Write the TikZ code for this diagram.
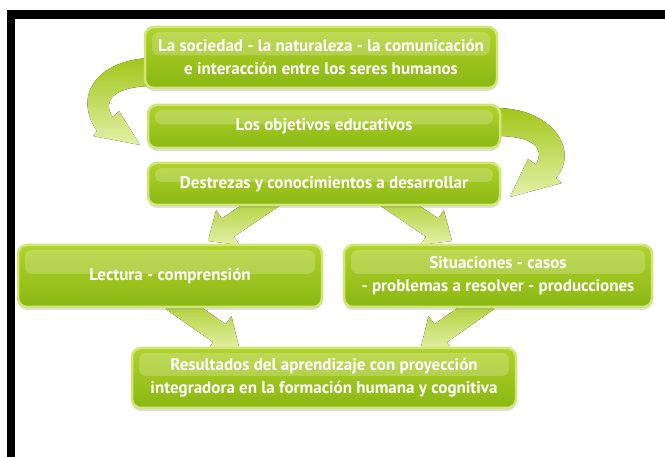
\documentclass[tikz,border=0pt]{standalone}
\usepackage{fontspec}
\setmainfont{PT Sans}
\usetikzlibrary{calc,shadows}
\definecolor{gtop}{HTML}{B1D22C}
\definecolor{gbot}{HTML}{8AB712}
\definecolor{gborder}{HTML}{D0E676}
\definecolor{atail}{HTML}{A2C61A}
\definecolor{atip}{HTML}{E4F1A8}
\tikzset{
  gbox/.style={draw=gborder, line width=2.5pt, rounded corners=9pt,
    top color=gtop, bottom color=gbot, text=white,
    font=\bfseries\fontsize{17}{23}\selectfont, align=center, inner sep=0pt,
    drop shadow={shadow xshift=0pt, shadow yshift=-3pt, opacity=0.25},
    path picture={\fill[white, opacity=0.2, rounded corners=7pt]
      ([xshift=7pt,yshift=-5pt]path picture bounding box.north west) rectangle
      ([xshift=-7pt,yshift=2pt]path picture bounding box.east);}},
  garrow/.style={top color=atail, middle color=atail!85!atip, bottom color=atip},
  frame/.style={fill=black}
}
\newcommand\blkarrow[5]{%
  \coordinate (ba) at (#1); \coordinate (bt) at (#2);
  \coordinate (bb) at ($(bt)!#5!(ba)$);
  \fill[garrow] ($(ba)!#3!90:(bt)$) -- ($(bb)!#3!90:(bt)$) -- ($(bb)!#4!90:(bt)$)
    -- (bt) -- ($(bb)!#4!-90:(bt)$) -- ($(bb)!#3!-90:(bt)$) -- ($(ba)!#3!-90:(bt)$) -- cycle;}
\begin{document}
\begin{tikzpicture}[x=1pt,y=-1pt]
\useasboundingbox[fill=white] (0,0) rectangle (665,457);
\fill[frame] (7,10) rectangle (665,19);
\fill[frame] (7,10) rectangle (15,457);

% node positions (drawn later); coordinates for arrows
\path (321,57.5) coordinate (p1) (324,126.5) coordinate (p2) (324,184) coordinate (p3)
      (170,276) coordinate (p4) (498,276) coordinate (p5) (324,378) coordinate (p6);

% curved arrow n1 -> n2 (left)
\coordinate (l1o) at ($(p1)+(-171,0.5)$);
\coordinate (l1i) at ($(p1)+(-171,28.5)$);
\coordinate (l1t) at ($(p2)+(-184,18.5)$);
\fill[garrow] (l1o) .. controls (98,60) and (72,95) .. (97,131) -- (93,136) -- (l1t)
  -- (119,111) -- (113,117.5) .. controls (101,100) and (115,87) .. (l1i) -- cycle;

% curved arrow n2 -> n3 (right)
\coordinate (r1o) at ($(p2)+(172,-18.5)$);
\coordinate (r1i) at ($(p2)+(172,9.5)$);
\coordinate (r1t) at ($(p3)+(186,13)$);
\fill[garrow] (r1o) .. controls (552,108) and (580,150) .. (556,178) -- (562,183) -- (r1t)
  -- (528,159) -- (536,164.5) .. controls (546,146) and (530,136) .. (r1i) -- cycle;

% straight arrows
\coordinate (a34s) at ($(p3)+(-48,11)$);
\coordinate (a34t) at ($(p4)+(38,-35)$);
\coordinate (a35s) at ($(p3)+(60,11)$);
\coordinate (a35t) at ($(p5)+(-46,-35)$);
\coordinate (a46s) at ($(p4)+(2,24)$);
\coordinate (a46t) at ($(p6)+(-85,-31)$);
\coordinate (a56s) at ($(p5)+(-10,24)$);
\coordinate (a56t) at ($(p6)+(97,-31)$);
\blkarrow{a34s}{a34t}{11pt}{21pt}{24pt}
\blkarrow{a35s}{a35t}{11pt}{21pt}{24pt}
\blkarrow{a46s}{a46t}{11pt}{21pt}{24pt}
\blkarrow{a56s}{a56t}{11pt}{21pt}{24pt}

% boxes
\node[gbox, minimum width=352pt, minimum height=61pt] (n1) at (p1)
  {La sociedad - la naturaleza - la comunicación\\e interacción entre los seres humanos};
\node[gbox, minimum width=352pt, minimum height=43pt] (n2) at (p2) {Los objetivos educativos};
\node[gbox, minimum width=352pt, minimum height=42pt] (n3) at (p3) {Destrezas y conocimientos a desarrollar};
\node[gbox, minimum width=304pt, minimum height=62pt] (n4) at (p4) {Lectura - comprensión};
\node[gbox, minimum width=308pt, minimum height=62pt] (n5) at (p5)
  {Situaciones - casos\\- problemas a resolver - producciones};
\node[gbox, minimum width=384pt, minimum height=60pt] (n6) at (p6)
  {Resultados del aprendizaje con proyección\\integradora en la formación humana y cognitiva};
\end{tikzpicture}
\end{document}
